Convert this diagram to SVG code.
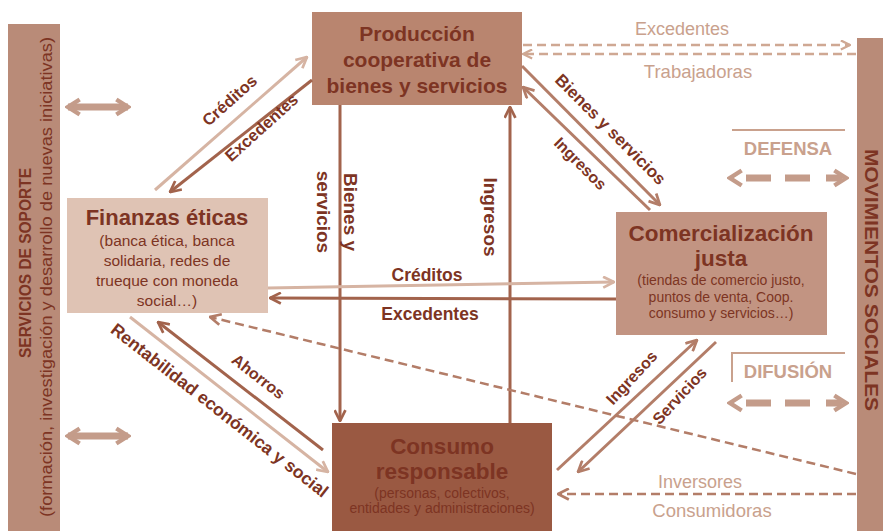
<svg xmlns="http://www.w3.org/2000/svg" width="883" height="531" viewBox="0 0 883 531">
<defs>
<style>
.t{font-family:"Liberation Sans",Arial,sans-serif;fill:#7d3423;}
.b{font-weight:bold;}
.lt{font-family:"Liberation Sans",Arial,sans-serif;fill:#c9a18d;}
.dk{stroke:#a2634c;stroke-width:3;fill:none;}
.md{stroke:#b37d68;stroke-width:3;fill:none;}
.li{stroke:#d6b4a3;stroke-width:3;fill:none;}
.dsh{stroke:#b37d68;stroke-width:2.5;fill:none;stroke-dasharray:9 5;}
.dshl{stroke:#cfa893;stroke-width:2.5;fill:none;stroke-dasharray:9 5;}
.big{stroke:#c49c8a;stroke-width:7;fill:none;}
</style>
<marker id="mDk" viewBox="0 0 12 12" refX="11" refY="6" markerWidth="13" markerHeight="13" markerUnits="userSpaceOnUse" orient="auto"><path d="M1,1 L11,6 L1,11" fill="none" stroke="#a2634c" stroke-width="2.5"/></marker>
<marker id="mMd" viewBox="0 0 12 12" refX="11" refY="6" markerWidth="13" markerHeight="13" markerUnits="userSpaceOnUse" orient="auto"><path d="M1,1 L11,6 L1,11" fill="none" stroke="#b37d68" stroke-width="2.5"/></marker>
<marker id="mLi" viewBox="0 0 12 12" refX="11" refY="6" markerWidth="13" markerHeight="13" markerUnits="userSpaceOnUse" orient="auto"><path d="M1,1 L11,6 L1,11" fill="none" stroke="#d6b4a3" stroke-width="2.5"/></marker>
<marker id="mDs" viewBox="0 0 12 12" refX="11" refY="6" markerWidth="11" markerHeight="11" markerUnits="userSpaceOnUse" orient="auto"><path d="M1,1 L11,6 L1,11" fill="none" stroke="#cfa893" stroke-width="2.5"/></marker>
<marker id="mBig" viewBox="0 0 12 12" refX="10" refY="6" markerWidth="20" markerHeight="20" markerUnits="userSpaceOnUse" orient="auto-start-reverse"><path d="M3,1.5 L10,6 L3,10.5" fill="none" stroke="#c49c8a" stroke-width="2.6"/></marker>
</defs>

<g id="servicios-soporte">
<rect x="8" y="24" width="52" height="507" fill="#b98b78"/>
<text class="t b" font-size="16.5" text-anchor="middle" transform="translate(25,263) rotate(-90)" dy="6" textLength="190" lengthAdjust="spacingAndGlyphs">SERVICIOS DE SOPORTE</text>
<text class="t" font-size="16" text-anchor="middle" transform="translate(47,277) rotate(-90)" dy="5" textLength="480" lengthAdjust="spacingAndGlyphs">(formación, investigación y desarrollo de nuevas iniciativas)</text>
</g>

<g id="movimientos-sociales">
<rect x="857" y="38" width="26" height="493" fill="#b98b78"/>
<text class="t b" font-size="19" text-anchor="middle" transform="translate(871,280) rotate(90)" dy="6" textLength="262" lengthAdjust="spacingAndGlyphs">MOVIMIENTOS SOCIALES</text>
</g>

<g id="produccion">
<rect x="312" y="12" width="210" height="93" fill="#b9856f"/>
<text class="t b" font-size="21" text-anchor="middle" x="417" y="41">Producción</text>
<text class="t b" font-size="21" text-anchor="middle" x="417" y="67">cooperativa de</text>
<text class="t b" font-size="21" text-anchor="middle" x="417" y="93">bienes y servicios</text>
</g>

<g id="finanzas">
<rect x="67" y="198" width="201" height="115" fill="#dfc3b4"/>
<text class="t b" font-size="22" text-anchor="middle" x="167" y="225">Finanzas éticas</text>
<text class="t" font-size="15.5" text-anchor="middle" x="167" y="246">(banca ética, banca</text>
<text class="t" font-size="15.5" text-anchor="middle" x="167" y="266">solidaria, redes de</text>
<text class="t" font-size="15.5" text-anchor="middle" x="167" y="286">trueque con moneda</text>
<text class="t" font-size="15.5" text-anchor="middle" x="167" y="306">social…)</text>
</g>

<g id="comercializacion">
<rect x="616" y="212" width="211" height="123" fill="#c29482"/>
<text class="t b" font-size="22.5" text-anchor="middle" x="721" y="241">Comercialización</text>
<text class="t b" font-size="22.5" text-anchor="middle" x="721" y="266">justa</text>
<text class="t" font-size="14" text-anchor="middle" x="721" y="285">(tiendas de comercio justo,</text>
<text class="t" font-size="14" text-anchor="middle" x="721" y="302">puntos de venta, Coop.</text>
<text class="t" font-size="14" text-anchor="middle" x="721" y="318">consumo y servicios…)</text>
</g>

<g id="consumo">
<rect x="332" y="423" width="220" height="108" fill="#9a5942"/>
<text class="t b" font-size="22.5" text-anchor="middle" x="442" y="454">Consumo</text>
<text class="t b" font-size="22.5" text-anchor="middle" x="442" y="479">responsable</text>
<text class="t" font-size="14" text-anchor="middle" x="442" y="498">(personas, colectivos,</text>
<text class="t" font-size="14" text-anchor="middle" x="442" y="513">entidades y administraciones)</text>
</g>

<g id="connectors">
<line class="big" x1="68" y1="107" x2="128" y2="107" marker-start="url(#mBig)" marker-end="url(#mBig)"/>
<line class="big" x1="68" y1="436" x2="128" y2="436" marker-start="url(#mBig)" marker-end="url(#mBig)"/>

<line class="li" x1="155" y1="190" x2="307" y2="57" marker-end="url(#mLi)"/>
<line class="dk" x1="312" y1="80" x2="170" y2="192" marker-end="url(#mDk)"/>

<line class="dk" x1="340" y1="105" x2="340" y2="421" marker-end="url(#mDk)"/>
<line class="dk" x1="510" y1="423" x2="510" y2="107" marker-end="url(#mDk)"/>

<line class="li" x1="268" y1="288" x2="614" y2="282" marker-end="url(#mLi)"/>
<line class="dk" x1="616" y1="299" x2="270" y2="298" marker-end="url(#mDk)"/>

<line class="md" x1="522" y1="66" x2="660" y2="205" marker-end="url(#mMd)"/>
<line class="md" x1="650" y1="210" x2="523" y2="87" marker-end="url(#mMd)"/>

<line class="md" x1="557" y1="470" x2="697" y2="340" marker-end="url(#mMd)"/>
<line class="md" x1="716" y1="342" x2="578" y2="472" marker-end="url(#mMd)"/>

<line class="dk" x1="323" y1="450" x2="158" y2="322" marker-end="url(#mDk)"/>
<line class="li" x1="130" y1="317" x2="328" y2="472" marker-end="url(#mLi)"/>

<line class="dsh" x1="856" y1="474" x2="210" y2="317" marker-end="url(#mMd)"/>
<line class="dsh" x1="856" y1="494" x2="558" y2="494" marker-end="url(#mMd)"/>

<line class="dshl" x1="523" y1="45" x2="850" y2="45" marker-end="url(#mDs)"/>
<line class="dshl" x1="856" y1="54" x2="523" y2="54" marker-end="url(#mDs)"/>

<line stroke="#c9a18d" stroke-width="2" x1="732" y1="130" x2="845" y2="130"/>
<line class="big" x1="730" y1="178" x2="846" y2="178" stroke-dasharray="0 16 25 14 25 16 0" marker-start="url(#mBig)" marker-end="url(#mBig)"/>
<polyline fill="none" stroke="#c9a18d" stroke-width="2" points="732,382 732,353 845,353"/>
<line class="big" x1="730" y1="403" x2="846" y2="403" stroke-dasharray="0 16 25 14 25 16 0" marker-start="url(#mBig)" marker-end="url(#mBig)"/>
</g>

<g id="labels">
<text class="lt" font-size="18" text-anchor="middle" x="682" y="35">Excedentes</text>
<text class="lt" font-size="18.5" text-anchor="middle" x="698" y="78">Trabajadoras</text>
<text class="lt b" font-size="18.5" text-anchor="middle" x="788" y="155">DEFENSA</text>
<text class="lt b" font-size="18.5" text-anchor="middle" x="788" y="378">DIFUSIÓN</text>
<text class="lt" font-size="18" text-anchor="middle" x="700" y="488">Inversores</text>
<text class="lt" font-size="18.5" text-anchor="middle" x="712" y="517">Consumidoras</text>

<text class="t b" font-size="16.5" text-anchor="middle" transform="translate(230,101) rotate(-42)" dy="5">Créditos</text>
<text class="t b" font-size="16.5" text-anchor="middle" transform="translate(262,128) rotate(-42)" dy="5">Excedentes</text>

<text class="t b" font-size="19" text-anchor="middle" transform="translate(350,212) rotate(90)" dy="6">Bienes y</text>
<text class="t b" font-size="19" text-anchor="middle" transform="translate(323,212) rotate(90)" dy="6">servicios</text>
<text class="t b" font-size="19" text-anchor="middle" transform="translate(490,217) rotate(90)" dy="6">Ingresos</text>

<text class="t b" font-size="17.5" text-anchor="middle" x="427" y="281">Créditos</text>
<text class="t b" font-size="17.5" text-anchor="middle" x="430" y="320">Excedentes</text>

<text class="t b" font-size="17" text-anchor="middle" transform="translate(610,130) rotate(45)" dy="5">Bienes y servicios</text>
<text class="t b" font-size="16" text-anchor="middle" transform="translate(580,164) rotate(45)" dy="5">Ingresos</text>

<text class="t b" font-size="16" text-anchor="middle" transform="translate(632,378) rotate(-47)" dy="5">Ingresos</text>
<text class="t b" font-size="16" text-anchor="middle" transform="translate(680,396) rotate(-47)" dy="5">Servicios</text>

<text class="t b" font-size="16" text-anchor="middle" transform="translate(258,377) rotate(38)" dy="5">Ahorros</text>
<text class="t b" font-size="17.5" text-anchor="middle" transform="translate(219,411) rotate(38)" dy="5">Rentabilidad económica y social</text>
</g>
</svg>
